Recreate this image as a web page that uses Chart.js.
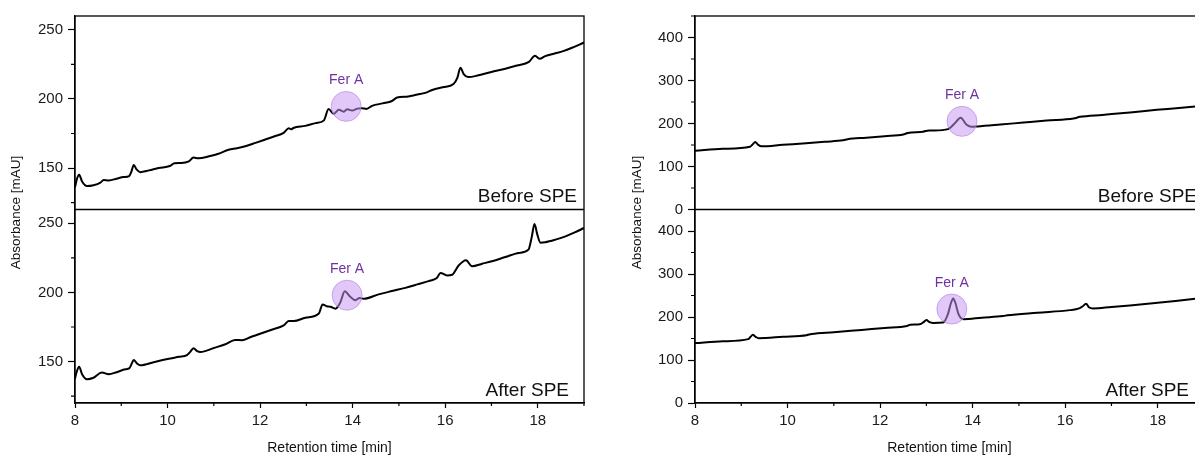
<!DOCTYPE html>
<html>
<head>
<meta charset="utf-8">
<script src="https://cdn.jsdelivr.net/npm/chart.js@4.4.1/dist/chart.umd.min.js"></script>
<style>
  html, body { margin: 0; padding: 0; background: #fff; overflow: hidden; }
  body { position: relative; width: 1195px; height: 455px; }
  .panel { position: absolute; top: 0; height: 455px; }
  #panelA { left: 0; width: 600px; }
  #panelB { left: 600px; width: 620px; }
</style>
</head>
<body>
<div class="panel" id="panelA"><canvas id="chartA"></canvas></div>
<div class="panel" id="panelB"><canvas id="chartB"></canvas></div>
<script>
// ---- data (retention time in min, absorbance in mAU) ----

// left panel, before SPE
const aBeforeTime = [8.00, 8.04, 8.09, 8.15, 8.26, 8.40, 8.55, 8.62, 8.73, 8.90, 9.05, 9.17, 9.22, 9.27, 9.33, 9.41, 9.60, 9.81, 10.05, 10.15, 10.30, 10.46, 10.56, 10.67, 10.90, 11.10, 11.32, 11.50, 11.68, 11.90, 12.11, 12.30, 12.51, 12.62, 12.67, 12.72, 12.98, 13.20, 13.38, 13.48, 13.59, 13.70, 13.81, 13.88, 13.99, 14.10, 14.20, 14.30, 14.42, 14.65, 14.85, 14.96, 15.20, 15.40, 15.57, 15.72, 15.95, 16.18, 16.26, 16.33, 16.40, 16.50, 16.72, 17.00, 17.30, 17.55, 17.81, 17.94, 18.04, 18.16, 18.38, 18.55, 18.74, 19.00];
const aBeforeAbs = [136.0, 142.0, 145.2, 140.5, 137.0, 137.6, 139.5, 141.3, 141.0, 142.3, 143.5, 144.2, 147.5, 152.2, 149.0, 147.0, 148.3, 150.0, 151.5, 153.5, 153.6, 154.8, 157.6, 157.0, 158.5, 160.3, 163.2, 164.3, 165.8, 168.2, 170.6, 172.8, 175.4, 178.8, 178.0, 179.0, 180.5, 182.5, 184.5, 192.7, 189.2, 192.2, 190.8, 192.6, 191.6, 193.0, 193.3, 192.8, 195.0, 196.8, 198.5, 201.0, 201.8, 203.2, 204.4, 206.5, 208.5, 210.8, 215.0, 222.5, 218.0, 215.8, 217.1, 219.5, 221.9, 224.2, 226.8, 231.2, 229.0, 231.0, 233.0, 234.6, 237.0, 240.8];

// left panel, after SPE
const aAfterTime = [8.00, 8.04, 8.09, 8.15, 8.26, 8.40, 8.58, 8.73, 8.90, 9.09, 9.17, 9.22, 9.27, 9.33, 9.41, 9.70, 10.00, 10.25, 10.42, 10.49, 10.56, 10.64, 10.71, 11.00, 11.25, 11.46, 11.61, 11.80, 11.97, 12.25, 12.51, 12.62, 12.73, 12.98, 13.27, 13.35, 13.44, 13.52, 13.63, 13.73, 13.83, 13.95, 14.06, 14.15, 14.24, 14.56, 14.85, 15.14, 15.40, 15.64, 15.82, 15.90, 16.04, 16.15, 16.29, 16.45, 16.58, 16.80, 17.01, 17.30, 17.59, 17.80, 17.87, 17.93, 17.99, 18.06, 18.16, 18.40, 18.60, 18.80, 19.00];
const aAfterAbs = [137.5, 143.0, 146.3, 141.0, 137.2, 138.3, 142.0, 140.8, 142.3, 144.4, 145.0, 148.0, 151.2, 149.0, 147.3, 149.5, 151.8, 153.4, 154.6, 157.0, 159.6, 157.5, 156.9, 159.8, 162.5, 165.6, 165.4, 167.8, 169.7, 173.0, 176.2, 179.3, 179.3, 181.7, 184.8, 191.3, 190.0, 189.6, 188.2, 192.5, 200.9, 196.8, 194.4, 196.0, 195.4, 198.6, 201.0, 203.3, 205.8, 208.2, 210.5, 214.1, 212.3, 212.8, 219.5, 223.3, 219.0, 220.8, 222.6, 225.6, 228.6, 231.0, 240.0, 249.5, 242.0, 236.0, 236.3, 238.4, 240.6, 243.4, 246.6];

// right panel, before SPE
const bBeforeTime = [8.00, 8.60, 9.19, 9.25, 9.30, 9.36, 9.44, 9.90, 10.40, 10.80, 11.20, 11.30, 11.70, 12.10, 12.50, 12.60, 12.93, 13.06, 13.18, 13.47, 13.61, 13.74, 13.87, 13.98, 14.10, 14.60, 15.10, 15.60, 16.18, 16.32, 16.80, 17.40, 17.98, 18.40, 18.81, 19.00];
const bBeforeAbs = [136.4, 141.0, 145.7, 152.0, 157.0, 151.0, 147.0, 150.5, 154.0, 157.5, 161.0, 163.5, 167.0, 170.5, 174.5, 178.0, 181.0, 184.0, 184.0, 187.0, 200.0, 213.5, 197.0, 192.3, 193.0, 197.5, 202.3, 207.0, 211.5, 215.5, 220.0, 225.6, 231.8, 235.5, 239.5, 241.5];

// right panel, after SPE
const bAfterTime = [8.00, 8.60, 9.15, 9.20, 9.25, 9.31, 9.37, 9.90, 10.41, 10.52, 11.00, 11.60, 12.10, 12.58, 12.65, 12.86, 12.94, 13.00, 13.07, 13.15, 13.36, 13.47, 13.53, 13.58, 13.63, 13.69, 13.80, 14.20, 14.66, 14.75, 15.40, 16.10, 16.30, 16.38, 16.45, 16.52, 16.60, 17.00, 17.40, 18.00, 18.81, 19.00];
const bAfterAbs = [139.3, 143.5, 148.5, 154.0, 158.5, 154.0, 150.5, 154.0, 157.8, 160.5, 164.5, 170.0, 174.5, 179.0, 182.0, 183.0, 188.0, 193.0, 188.0, 186.0, 187.0, 208.0, 232.0, 243.0, 232.0, 208.0, 195.0, 198.5, 202.3, 204.0, 210.0, 216.0, 220.0, 225.0, 231.0, 222.0, 220.0, 223.5, 227.0, 233.0, 242.2, 244.0];

// Fer A marker positions [time, absorbance]
const ferA_aBefore = [13.86, 194.6];
const ferA_aAfter = [13.88, 198.0];
const ferA_bBefore = [13.77, 205.0];
const ferA_bAfter = [13.55, 218.5];

// axis ticks
const xMajorTicks = [8, 10, 12, 14, 16, 18];
const xMinorTicks = [9, 11, 13, 15, 17, 19];
const aMinorTicks = [125, 175, 225];
const bMinorTicks = [50, 150, 250, 350, 450];

const FONT = "'Liberation Sans', Arial, sans-serif";

function toPoints(times, values) {
  return times.map((t, i) => ({ x: t, y: values[i] }));
}

const decorPlugin = {
  id: 'decor',
  afterDraw(chart, args, opts) {
    const ctx = chart.ctx;
    const area = chart.chartArea;
    const top = chart.scales.yTop;
    const bottom = chart.scales.yBottom;
    const x = chart.scales.x;
    ctx.save();
    ctx.strokeStyle = '#000';
    ctx.lineWidth = 1.3;
    ctx.strokeRect(area.left, area.top, area.right - area.left, area.bottom - area.top);
    ctx.beginPath();
    ctx.moveTo(area.left, top.bottom);
    ctx.lineTo(area.right, top.bottom);
    ctx.stroke();

    // minor ticks
    ctx.lineWidth = 1.2;
    ctx.beginPath();
    [top, bottom].forEach(s => {
      opts.yMinor.forEach(v => {
        if (v <= s.min || v > s.max) return;
        const py = s.getPixelForValue(v);
        ctx.moveTo(area.left - 4, py);
        ctx.lineTo(area.left, py);
      });
    });
    xMinorTicks.forEach(v => {
      const px = x.getPixelForValue(v);
      ctx.moveTo(px, area.bottom);
      ctx.lineTo(px, area.bottom + 3);
    });
    ctx.stroke();

    // subplot labels
    ctx.fillStyle = '#111';
    ctx.font = '19px ' + FONT;
    ctx.textAlign = 'right';
    ctx.textBaseline = 'alphabetic';
    ctx.fillText('Before SPE', area.right - 7, top.bottom - 8);
    ctx.fillText('After SPE', area.right - 15, bottom.bottom - 7);

    // Fer A labels above the circles
    ctx.fillStyle = '#7030A0';
    ctx.font = '14px ' + FONT;
    ctx.textAlign = 'center';
    ctx.textBaseline = 'middle';
    chart.data.datasets.forEach((ds, i) => {
      if (!ds.ferLabel) return;
      const el = chart.getDatasetMeta(i).data[0];
      ctx.fillText(ds.ferLabel, el.x, el.y - 26);
    });

    // shared y title
    ctx.fillStyle = '#111';
    ctx.font = '13.5px ' + FONT;
    ctx.translate(opts.titleX, (area.top + area.bottom) / 2 + 3);
    ctx.rotate(-Math.PI / 2);
    ctx.fillText('Absorbance [mAU]', 0, 0);
    ctx.restore();
  }
};

function yAxis(cfg) {
  return {
    type: 'linear',
    position: 'left',
    stack: 'panel',
    stackWeight: 1,
    min: cfg.yMin,
    max: cfg.yMax,
    border: { display: true, color: '#000', width: 1.3 },
    grid: { drawOnChartArea: false, drawTicks: true, tickLength: 7, tickColor: '#000', tickWidth: 1.2 },
    ticks: {
      stepSize: cfg.yStep,
      includeBounds: false,
      color: '#1a1a1a',
      padding: 5,
      font: { family: FONT, size: 15 }
    },
    afterFit: (scale) => { scale.width = cfg.axisWidth; }
  };
}

function circle(pos, axisId) {
  return {
    type: 'scatter',
    ferLabel: 'Fer A',
    data: [{ x: pos[0], y: pos[1] }],
    yAxisID: axisId,
    pointRadius: 15,
    pointHoverRadius: 15,
    backgroundColor: 'rgba(198, 150, 242, 0.52)',
    borderColor: 'rgba(175, 125, 225, 0.6)',
    borderWidth: 1,
    order: 0
  };
}

function trace(times, values, axisId) {
  return {
    type: 'line',
    data: toPoints(times, values),
    yAxisID: axisId,
    borderColor: '#000',
    borderWidth: 2,
    pointRadius: 0,
    cubicInterpolationMode: 'monotone',
    order: 1
  };
}

function makePanel(canvasId, cfg) {
  const ctx = document.getElementById(canvasId).getContext('2d');
  new Chart(ctx, {
    type: 'line',
    data: {
      datasets: [
        circle(cfg.ferBefore, 'yTop'),
        circle(cfg.ferAfter, 'yBottom'),
        trace(cfg.beforeTime, cfg.beforeAbs, 'yTop'),
        trace(cfg.afterTime, cfg.afterAbs, 'yBottom')
      ]
    },
    options: {
      responsive: true,
      maintainAspectRatio: false,
      animation: false,
      events: [],
      layout: { padding: { top: 13, right: cfg.rightPad, bottom: 0, left: 0 } },
      plugins: {
        legend: { display: false },
        tooltip: { enabled: false },
        decor: { yMinor: cfg.yMinor, titleX: cfg.titleX }
      },
      scales: {
        x: {
          type: 'linear',
          position: 'bottom',
          min: 8,
          max: 19,
          border: { display: true, color: '#000', width: 1.3 },
          grid: { drawOnChartArea: false, drawTicks: true, tickLength: 5, tickColor: '#000', tickWidth: 1.2 },
          afterBuildTicks: (scale) => { scale.ticks = xMajorTicks.map(v => ({ value: v })); },
          ticks: { color: '#1a1a1a', padding: 4, font: { family: FONT, size: 15 } },
          title: { display: true, text: 'Retention time [min]', color: '#111', padding: { top: 0, bottom: -2 }, font: { family: FONT, size: 14 } },
          afterFit: (scale) => { scale.height = 52; }
        },
        yBottom: yAxis(cfg),
        yTop: yAxis(cfg)
      }
    },
    plugins: [decorPlugin]
  });
}

makePanel('chartA', {
  beforeTime: aBeforeTime, beforeAbs: aBeforeAbs,
  afterTime: aAfterTime, afterAbs: aAfterAbs,
  ferBefore: ferA_aBefore, ferAfter: ferA_aAfter,
  yMin: 120, yMax: 260, yStep: 50, yMinor: aMinorTicks,
  axisWidth: 75, rightPad: 16, titleX: 16
});

makePanel('chartB', {
  beforeTime: bBeforeTime, beforeAbs: bBeforeAbs,
  afterTime: bAfterTime, afterAbs: bAfterAbs,
  ferBefore: ferA_bBefore, ferAfter: ferA_bAfter,
  yMin: 0, yMax: 450, yStep: 100, yMinor: bMinorTicks,
  axisWidth: 95, rightPad: 16, titleX: 37
});
</script>
</body>
</html>
